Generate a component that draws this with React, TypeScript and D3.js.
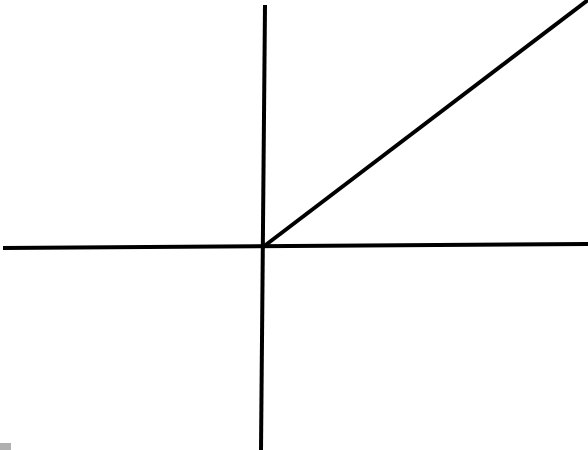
import React from "react";
import * as d3 from "d3";

const W = 588;
const H = 450;

// Data coordinates (origin at axes crossing)
const xAxisPoints: [number, number][] = [[-260, -1], [325, 3]];
const yAxisPoints: [number, number][] = [[2, 242], [-2, -203]];
const linePoints: [number, number][] = [[0, 0], [325, 247]];

const xDomain: [number, number] = [-263, 325];
const yDomain: [number, number] = [-203, 247];

export default function App() {
  const x = d3.scaleLinear().domain(xDomain).range([0, W]);
  const y = d3.scaleLinear().domain(yDomain).range([H, 0]);
  const line = d3
    .line<[number, number]>()
    .x((d) => x(d[0]))
    .y((d) => y(d[1]));

  return (
    <svg
      width={W}
      height={H}
      style={{ position: "fixed", left: 0, top: 0, background: "#fff" }}
    >
      <rect x={0} y={0} width={W} height={H} fill="#fff" />
      <path d={line(xAxisPoints) || ""} stroke="#000" strokeWidth={4} fill="none" />
      <path d={line(yAxisPoints) || ""} stroke="#000" strokeWidth={4} fill="none" />
      <path d={line(linePoints) || ""} stroke="#000" strokeWidth={4} fill="none" />
      <rect x={0} y={443} width={11} height={7} fill="#b0b0b0" />
    </svg>
  );
}
